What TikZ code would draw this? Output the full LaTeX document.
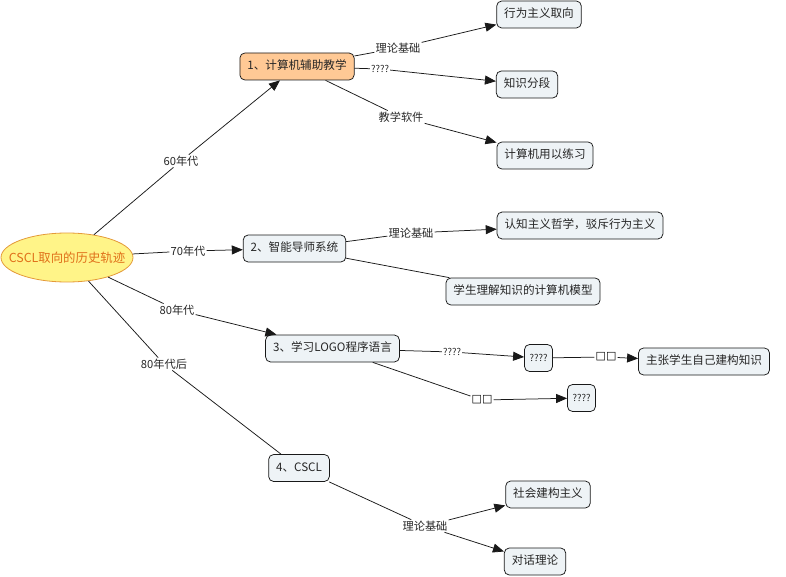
\documentclass[tikz,border=0pt]{standalone}
\usepackage{fontspec}
\setmainfont{Noto Sans CJK SC}
\newfontfamily\symfont{DejaVu Sans}
\usetikzlibrary{arrows.meta,shapes.geometric}
\definecolor{boxfill}{HTML}{EEF3F6}
\definecolor{orgfill}{HTML}{FFC995}
\definecolor{rootfill}{HTML}{FFF488}
\definecolor{rootdraw}{HTML}{E49A3A}
\definecolor{roottext}{HTML}{E0701A}
\begin{document}
\begin{tikzpicture}[x=1pt,y=-1pt,
  box/.style={draw=black!90, line width=0.75pt, rounded corners=5pt, fill=boxfill,
    minimum height=27pt, inner xsep=7.5pt, text height=8.5pt, text depth=2pt,
    text=black!85, font=\fontsize{11.6}{13}\selectfont},
  qbox/.style={box, inner xsep=5pt, font=\fontsize{9.5}{11}\selectfont},
  lbl/.style={inner sep=1pt, text=black!85, font=\fontsize{11.2}{12}\selectfont},
  sq/.style={lbl, text=black, font=\symfont\fontsize{11}{12}\selectfont},
  ln/.style={line width=0.75pt, draw=black!90},
  arr/.style={ln, -{Triangle[length=11pt,width=9pt]}}]
\useasboundingbox (0,0) rectangle (786,577);

\node[ellipse, draw=rootdraw, line width=0.8pt, fill=rootfill,
  minimum width=132pt, minimum height=49pt, inner sep=0pt] (root) at (67,257.5) {};
\node[text=roottext, inner sep=0pt, font=\fontsize{12.4}{14}\selectfont]
  (roottxt) at (root.center) {CSCL取向的历史轨迹};

\node[box, fill=orgfill] (n1) at (297,66.5) {1、计算机辅助教学};
\node[box] (a1) at (539,14.5) {行为主义取向};
\node[box] (a2) at (527,84.5) {知识分段};
\node[box] (a3) at (545,155.5) {计算机用以练习};
\node[box] (n2) at (294.5,248.5) {2、智能导师系统};
\node[box] (b1) at (580,225.5) {认知主义哲学，驳斥行为主义};
\node[box] (b2) at (523,291.5) {学生理解知识的计算机模型};
\node[box] (n3) at (332.5,348.5) {3、学习LOGO程序语言};
\node[qbox] (c1) at (538.5,358) {????};
\node[box] (c2) at (704,361.5) {主张学生自己建构知识};
\node[qbox] (c3) at (581.5,398) {????};
\node[box] (n4) at (299,468) {4、CSCL};
\node[box] (d1) at (548,494.5) {社会建构主义};
\node[box] (d2) at (535,561.5) {对话理论};

\node[lbl] (l60) at (181,161) {60年代};
\node[lbl] (l70) at (188,251) {70年代};
\node[lbl] (l80) at (177,310) {80年代};
\node[lbl] (l80h) at (164,364) {80年代后};
\node[lbl] (la1) at (398,48) {理论基础};
\node[lbl, font=\fontsize{9.5}{11}\selectfont] (la2) at (380,69) {????};
\node[lbl] (la3) at (401,117) {教学软件};
\node[lbl] (lb1) at (411,233) {理论基础};
\node[lbl, font=\fontsize{9.5}{11}\selectfont] (lc1) at (452,352) {????};
\node[sq] (lc2) at (606,357) {□□};
\node[sq] (lc3) at (482,400) {□□};
\node[lbl] (ld) at (425,526) {理论基础};

\draw[ln] (root) -- (l60);  \draw[arr] (l60) -- (n1);
\draw[ln] (root) -- (l70);  \draw[arr] (l70) -- (n2);
\draw[ln] (root) -- (l80);  \draw[arr] (l80) -- (n3);
\draw[ln] (root) -- (l80h); \draw[ln] (l80h) -- (n4);

\draw[ln] (n1) -- (la1); \draw[arr] (la1) -- (a1);
\draw[ln] (n1) -- (la2); \draw[arr] (la2) -- (a2);
\draw[ln] (n1) -- (la3); \draw[arr] (la3) -- (a3);

\draw[ln] (n2) -- (lb1); \draw[arr] (lb1) -- (b1);
\draw[ln] (n2) -- (b2);

\draw[ln] (n3) -- (lc1); \draw[arr] (lc1) -- (c1);
\draw[ln] (c1) -- (lc2); \draw[arr] (lc2) -- (c2);
\draw[ln] (n3) -- (lc3); \draw[arr] (lc3) -- (c3);

\draw[ln] (n4) -- (ld);
\draw[arr] (ld) -- (d1);
\draw[arr] (ld) -- (d2);
\end{tikzpicture}
\end{document}
